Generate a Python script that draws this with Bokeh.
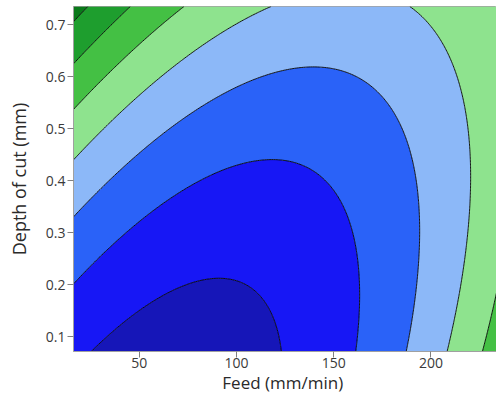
import numpy as np
from bokeh.plotting import figure
from bokeh.embed import file_html
from bokeh.resources import INLINE
from bokeh.models import Range1d, FixedTicker

# Points read along each contour boundary of the reference (feed mm/min, depth mm, contour index)
c1_feed = [26, 66, 90, 110.6, 117.4, 122.6]
c1_depth = [0.067, 0.188, 0.2115, 0.182, 0.137, 0.067]
c2_feed = [16.2, 40.4, 66, 110.8, 156.8, 162.7, 161.2]
c2_depth = [0.208, 0.298, 0.387, 0.438, 0.348, 0.233, 0.067]
c3_feed = [16.2, 48.9, 83.2, 110.6, 138, 165.4, 185.8, 193, 192.8, 186.8]
c3_depth = [0.329, 0.445, 0.554, 0.599, 0.617, 0.592, 0.502, 0.361, 0.233, 0.067]
c4_feed = [16.2, 66, 119, 189.4, 206.5, 218.7, 220, 218.5, 213.5, 208]
c4_depth = [0.438, 0.599, 0.733, 0.733, 0.65, 0.554, 0.425, 0.297, 0.169, 0.067]
c5_feed = [16.2, 43.8, 72.7, 234.6, 237.3, 237.3, 229.6, 226.9]
c5_depth = [0.535, 0.631, 0.733, 0.733, 0.695, 0.265, 0.115, 0.067]
c6_feed = [16.2, 28.3, 40.4]
c6_depth = [0.625, 0.679, 0.733]
c7_feed = [16.2, 19.7, 23.2]
c7_depth = [0.701, 0.717, 0.733]

contour_levels = [1, 2, 3, 4, 5, 6, 7]
band_colors = ["#1616B8", "#1717F5", "#2A62F8", "#8CB8F8",
               "#8EE38E", "#44C044", "#1E9E2E", "#0A7A1A"]

x_ticks = [50, 100, 150, 200]
y_ticks = [0.1, 0.2, 0.3, 0.4, 0.5, 0.6, 0.7]
feed_range = (16.2, 233.7)
depth_range = (0.072, 0.735)
x_title = "Feed  (mm/min)"
y_title = "Depth of cut (mm)"

# Fit a quadratic response surface through the read contour points
feeds = [c1_feed, c2_feed, c3_feed, c4_feed, c5_feed, c6_feed, c7_feed]
depths = [c1_depth, c2_depth, c3_depth, c4_depth, c5_depth, c6_depth, c7_depth]
F, D, L = [], [], []
for lev, fl, dl in zip(contour_levels, feeds, depths):
    F += fl
    D += dl
    L += [lev] * len(fl)
F = np.array(F, float); D = np.array(D, float); L = np.array(L, float)

def design(f, d):
    fs = (f - 125.0) / 100.0
    ds = (d - 0.4) / 0.3
    return np.stack([np.ones_like(fs), fs, ds, fs**2, ds**2, fs * ds], axis=-1)

coef, *_ = np.linalg.lstsq(design(F, D), L, rcond=None)

gx = np.linspace(feed_range[0], feed_range[1], 240)
gy = np.linspace(depth_range[0], depth_range[1], 240)
GX, GY = np.meshgrid(gx, gy)
Z = design(GX, GY) @ coef

p = figure(width=496, height=396, output_backend="svg", toolbar_location=None,
           x_range=Range1d(*feed_range), y_range=Range1d(*depth_range),
           min_border_left=73, min_border_right=0, min_border_top=6,
           min_border_bottom=40)
p.contour(GX, GY, Z, levels=[-1e4] + contour_levels + [1e4],
          fill_color=band_colors, line_color="black", line_width=0.9)

p.xgrid.visible = False
p.ygrid.visible = False
p.outline_line_color = "#a0a0a0"
p.background_fill_color = "white"

p.xaxis.ticker = FixedTicker(ticks=x_ticks)
p.yaxis.ticker = FixedTicker(ticks=y_ticks)
p.xaxis.axis_label = x_title
p.yaxis.axis_label = y_title
for ax in (p.xaxis, p.yaxis):
    ax.major_label_text_font = "Open Sans"
    ax.major_label_text_font_size = "14px"
    ax.major_label_text_color = "#3a3a3a"
    ax.axis_label_text_font = "Open Sans"
    ax.axis_label_text_font_style = "normal"
    ax.axis_label_text_color = "#2a2a2a"
    ax.axis_line_color = "#a0a0a0"
    ax.major_tick_line_color = "#808080"
    ax.major_tick_out = 6
    ax.major_tick_in = 0
    ax.minor_tick_line_color = None
p.xaxis.axis_label_text_font_size = "17px"
p.yaxis.axis_label_text_font_size = "18px"
p.xaxis.major_label_standoff = 0
p.xaxis.axis_label_standoff = 0
p.yaxis.major_label_standoff = 2
p.yaxis.axis_label_standoff = 12

open("out.html", "w").write(file_html(p, INLINE))
